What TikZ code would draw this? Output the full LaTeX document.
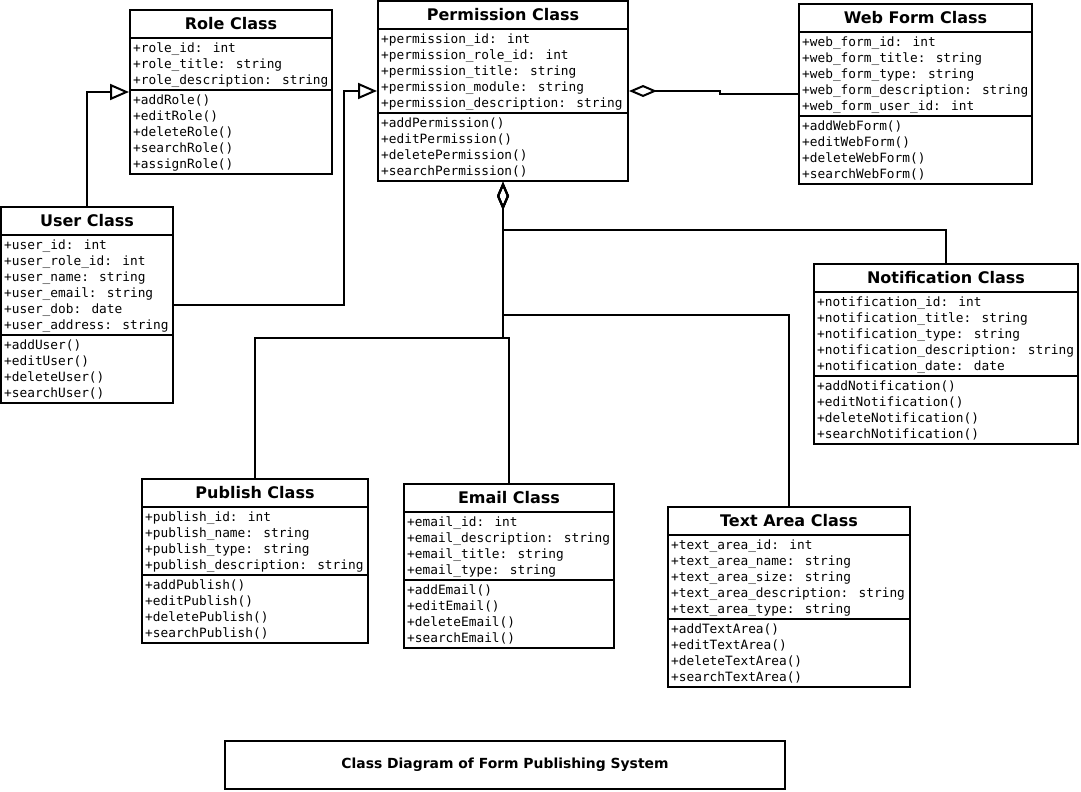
\documentclass[tikz,border=0pt]{standalone}
\usepackage{fontspec}
\setmainfont{DejaVu Sans}
\newfontfamily\umlmono{DejaVu Sans Mono}
\usetikzlibrary{arrows.meta}
\tikzset{
  classbox/.style={draw, line width=2pt, inner sep=0pt, fill=white},
  divline/.style={line width=2pt},
  classtitle/.style={font=\bfseries\fontsize{16}{18}\selectfont, inner sep=0pt},
  member/.style={font=\umlmono\fontsize{12.8}{16}\selectfont, inner sep=0pt},
  conn/.style={line width=2pt},
  gen/.style={conn, -{Triangle[open, length=19pt, width=16pt]}},
  aggr/.style={conn, {Diamond[open, length=28pt, width=12pt]}-},
  captionbox/.style={draw, line width=2pt, minimum width=560, minimum height=48, inner sep=0pt,
    font=\bfseries\fontsize{13.9}{16}\selectfont},
}
% #1 name, #2 x1, #3 y1, #4 x2, #5 #attributes, #6 #methods, #7 title, #8 attributes, #9 methods
\newcommand\umlclass[9]{%
  \pgfmathsetmacro\clsA{#3+28}%
  \pgfmathsetmacro\clsB{\clsA+16*#5+4}%
  \pgfmathsetmacro\clsC{\clsB+16*#6+4}%
  \node[classbox, minimum width={#4-#2}, minimum height={\clsC-#3}] (#1) at ({(#2+#4)/2},{(#3+\clsC)/2}) {};
  \draw[divline] (#2,\clsA) -- (#4,\clsA);
  \draw[divline] (#2,\clsB) -- (#4,\clsB);
  \node[classtitle, anchor=base] (#1-t) at ({(#2+#4)/2},{#3+19.8}) {#7};
  \foreach \s [count=\i] in {#8} {\node[member, anchor=base west] (#1-a\i) at ({#2+3},{\clsA+14.5+16*(\i-1)}) {\s};}
  \foreach \s [count=\i] in {#9} {\node[member, anchor=base west] (#1-m\i) at ({#2+3},{\clsB+14.5+16*(\i-1)}) {\s};}
}
\begin{document}
\begin{tikzpicture}[x=1pt,y=-1pt]
\fill[white] (0,0) rectangle (1081,792);
\useasboundingbox (0,0) rectangle (1081,792);

\umlclass{role}{130}{10}{332}{3}{5}{Role Class}
  {+role\_id: int,+role\_title: string,+role\_description: string}
  {+addRole(),+editRole(),+deleteRole(),+searchRole(),+assignRole()}
\umlclass{perm}{378}{1}{628}{5}{4}{Permission Class}
  {+permission\_id: int,+permission\_role\_id: int,+permission\_title: string,+permission\_module: string,+permission\_description: string}
  {+addPermission(),+editPermission(),+deletePermission(),+searchPermission()}
\umlclass{web}{799}{4}{1032}{5}{4}{Web Form Class}
  {+web\_form\_id: int,+web\_form\_title: string,+web\_form\_type: string,+web\_form\_description: string,+web\_form\_user\_id: int}
  {+addWebForm(),+editWebForm(),+deleteWebForm(),+searchWebForm()}
\umlclass{user}{1}{207}{173}{6}{4}{User Class}
  {+user\_id: int,+user\_role\_id: int,+user\_name: string,+user\_email: string,+user\_dob: date,+user\_address: string}
  {+addUser(),+editUser(),+deleteUser(),+searchUser()}
\umlclass{notif}{814}{264}{1078}{5}{4}{Notification Class}
  {+notification\_id: int,+notification\_title: string,+notification\_type: string,+notification\_description: string,+notification\_date: date}
  {+addNotification(),+editNotification(),+deleteNotification(),+searchNotification()}
\umlclass{pub}{142}{479}{368}{4}{4}{Publish Class}
  {+publish\_id: int,+publish\_name: string,+publish\_type: string,+publish\_description: string}
  {+addPublish(),+editPublish(),+deletePublish(),+searchPublish()}
\umlclass{email}{404}{484}{614}{4}{4}{Email Class}
  {+email\_id: int,+email\_description: string,+email\_title: string,+email\_type: string}
  {+addEmail(),+editEmail(),+deleteEmail(),+searchEmail()}
\umlclass{text}{668}{507}{910}{5}{4}{Text Area Class}
  {+text\_area\_id: int,+text\_area\_name: string,+text\_area\_size: string,+text\_area\_description: string,+text\_area\_type: string}
  {+addTextArea(),+editTextArea(),+deleteTextArea(),+searchTextArea()}

\node[captionbox] (caption) at (505,765) {Class Diagram of Form Publishing System};

% routing coordinates
\coordinate (ubend) at (344,0);
\coordinate (wjog) at (720,0);
\coordinate (busN) at (0,230);
\coordinate (busT) at (0,315);
\coordinate (busE) at (0,338);

% generalizations
\draw[gen] (user.north) |- (role.west);
\draw[gen] (user.east) -- (user.east -| ubend) -- (perm.west -| ubend) -- (perm.west);

% aggregations
\draw[aggr] (perm.east) -- (perm.east -| wjog) -- (web.west -| wjog) -- (web.west);
\draw[aggr] (perm.south) -- (perm.south |- busN) -| (notif.north);
\draw[aggr] (perm.south) -- (perm.south |- busT) -| (text.north);
\draw[aggr] (perm.south) -- (perm.south |- busE) -- (email.north |- busE) -- (email.north);
\draw[aggr] (perm.south) -- (perm.south |- busE) -| (pub.north);
\end{tikzpicture}
\end{document}
